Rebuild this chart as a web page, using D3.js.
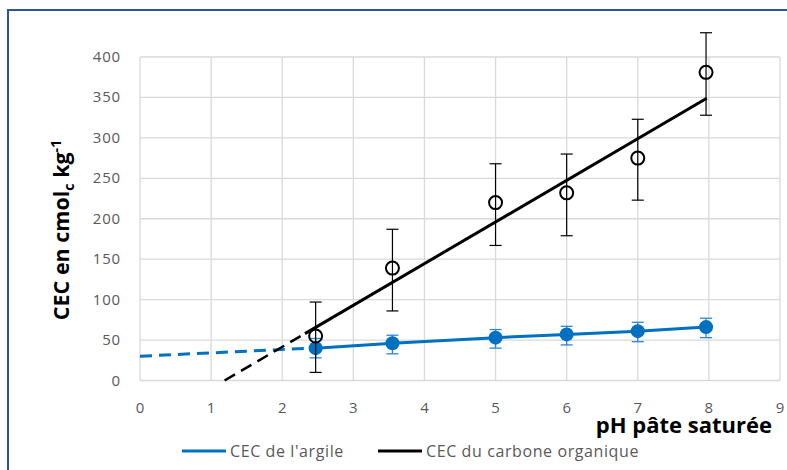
<!DOCTYPE html>
<html>
<head>
<meta charset="utf-8">
<script src="https://cdn.jsdelivr.net/npm/d3@7"></script>
<style>
body{margin:0;background:#fff}
text{font-family:"Open Sans",Lato,sans-serif}
</style>
</head>
<body>
<div id="chart"></div>
<script>
var w = 787, h = 470

// CEC du carbone organique (open circles + error bars)
var phOrg = [2.47, 3.55, 5, 6, 7, 7.96]
var cecOrg = [55, 139, 220, 232, 275, 381]
var orgLow = [10, 86, 167, 179, 223, 328]
var orgHigh = [97, 187, 268, 280, 323, 430]
// CEC de l'argile (filled circles + error bars)
var cecArg = [40, 46, 53, 57, 61, 66]
var argLow = [28, 33, 40, 44, 48, 53]
var argHigh = [52, 56, 63, 67, 72, 77]
// trend lines: [x, y] pairs
var orgTrendDash = [[1.19, 0], [2.32, 58]]
var orgTrendSolid = [[2.32, 58], [7.97, 349]]
var argTrendDash = [[0, 30], [2.4, 40]]

var xTicks = [0,1,2,3,4,5,6,7,8,9]
var yTicks = [0,50,100,150,200,250,300,350,400]

var svg = d3.select("#chart").append("svg").attr("width", w).attr("height", h)

// frame
svg.append("path").attr("d","M8,"+h+" V10 H"+w)
    .attr("fill","none").attr("stroke","#2f5496").attr("stroke-width",2)

var x = d3.scaleLinear().domain([0,9]).range([140,780])
var y = d3.scaleLinear().domain([0,400]).range([380.5,57])

// grid
svg.selectAll(".gx").data(xTicks).enter().append("line")
    .attr("x1",function(d){return x(d)}).attr("x2",function(d){return x(d)})
    .attr("y1",y(0)).attr("y2",y(400))
    .attr("stroke","#d9d9d9").attr("stroke-width",1.3)
svg.selectAll(".gy").data(yTicks).enter().append("line")
    .attr("x1",x(0)).attr("x2",x(9))
    .attr("y1",function(d){return y(d)}).attr("y2",function(d){return y(d)})
    .attr("stroke","#d9d9d9").attr("stroke-width",1.3)

// tick labels
svg.selectAll(".tx").data(xTicks).enter().append("text")
    .attr("x",function(d){return x(d)}).attr("y",413)
    .attr("text-anchor","middle").attr("font-size",15).attr("fill","#595959")
    .text(function(d){return d})
svg.selectAll(".ty").data(yTicks).enter().append("text")
    .attr("x",121).attr("y",function(d){return y(d)+5})
    .attr("text-anchor","end").attr("font-size",15).attr("letter-spacing",0.8).attr("fill","#595959")
    .text(function(d){return d})

var line = d3.line().x(function(d){return x(d[0])}).y(function(d){return y(d[1])})

// trend lines
svg.append("path").attr("d",line(argTrendDash)).attr("fill","none")
    .attr("stroke","#0070c0").attr("stroke-width",3).attr("stroke-dasharray","12,7")
svg.append("path").attr("d",line(orgTrendDash)).attr("fill","none")
    .attr("stroke","#000").attr("stroke-width",2.5).attr("stroke-dasharray","12,7")
svg.append("path").attr("d",line(orgTrendSolid)).attr("fill","none")
    .attr("stroke","#000").attr("stroke-width",3)

// argile series
var arg = phOrg.map(function(p,i){return {x:p,y:cecArg[i],lo:argLow[i],hi:argHigh[i]}})
svg.append("path").attr("d",line(arg.map(function(d){return [d.x,d.y]})))
    .attr("fill","none").attr("stroke","#0070c0").attr("stroke-width",3)
var eb = svg.selectAll(".ea").data(arg).enter().append("g")
eb.append("line").attr("x1",function(d){return x(d.x)}).attr("x2",function(d){return x(d.x)})
    .attr("y1",function(d){return y(d.lo)}).attr("y2",function(d){return y(d.hi)})
    .attr("stroke","#2e86d1").attr("stroke-width",1.3)
eb.selectAll(".cap").data(function(d){return [[d.x,d.lo],[d.x,d.hi]]}).enter().append("line")
    .attr("x1",function(d){return x(d[0])-6}).attr("x2",function(d){return x(d[0])+6})
    .attr("y1",function(d){return y(d[1])}).attr("y2",function(d){return y(d[1])})
    .attr("stroke","#2e86d1").attr("stroke-width",1.3)
svg.selectAll(".pa").data(arg).enter().append("circle")
    .attr("cx",function(d){return x(d.x)}).attr("cy",function(d){return y(d.y)})
    .attr("r",7).attr("fill","#0070c0")

// organic series
var org = phOrg.map(function(p,i){return {x:p,y:cecOrg[i],lo:orgLow[i],hi:orgHigh[i]}})
var eo = svg.selectAll(".eo").data(org).enter().append("g")
eo.append("line").attr("x1",function(d){return x(d.x)}).attr("x2",function(d){return x(d.x)})
    .attr("y1",function(d){return y(d.lo)}).attr("y2",function(d){return y(d.hi)})
    .attr("stroke","#000").attr("stroke-width",1.2)
eo.selectAll(".cap").data(function(d){return [[d.x,d.lo],[d.x,d.hi]]}).enter().append("line")
    .attr("x1",function(d){return x(d[0])-6}).attr("x2",function(d){return x(d[0])+6})
    .attr("y1",function(d){return y(d[1])}).attr("y2",function(d){return y(d[1])})
    .attr("stroke","#000").attr("stroke-width",1.2)
svg.selectAll(".po").data(org).enter().append("circle")
    .attr("cx",function(d){return x(d.x)}).attr("cy",function(d){return y(d.y)})
    .attr("r",6.5).attr("fill","none").attr("stroke","#000").attr("stroke-width",2)

// axis titles
var yt = svg.append("text").attr("transform","translate(69,230) rotate(-90)")
    .attr("text-anchor","middle").attr("font-size",21.5).attr("font-weight","bold").attr("fill","#000")
yt.append("tspan").text("CEC en cmol")
yt.append("tspan").attr("font-size",14).attr("dy",5).text("c")
yt.append("tspan").attr("dy",-5).text(" kg")
yt.append("tspan").attr("font-size",14).attr("dy",-8).text("-1")

svg.append("text").attr("x",772).attr("y",433).attr("text-anchor","end")
    .attr("font-size",22).attr("font-weight","bold").attr("fill","#000")
    .text("pH pâte saturée")

// legend
var legend = [
    {label:"CEC de l'argile", color:"#0070c0", x:182},
    {label:"CEC du carbone organique", color:"#000", x:378}
]
var lg = svg.selectAll(".lg").data(legend).enter().append("g")
lg.append("line").attr("x1",function(d){return d.x}).attr("x2",function(d){return d.x+44})
    .attr("y1",451).attr("y2",451).attr("stroke",function(d){return d.color}).attr("stroke-width",3)
lg.append("text").attr("x",function(d){return d.x+48}).attr("y",456.5)
    .attr("font-size",16).attr("letter-spacing",0.6).attr("fill","#595959").text(function(d){return d.label})
</script>
</body>
</html>
